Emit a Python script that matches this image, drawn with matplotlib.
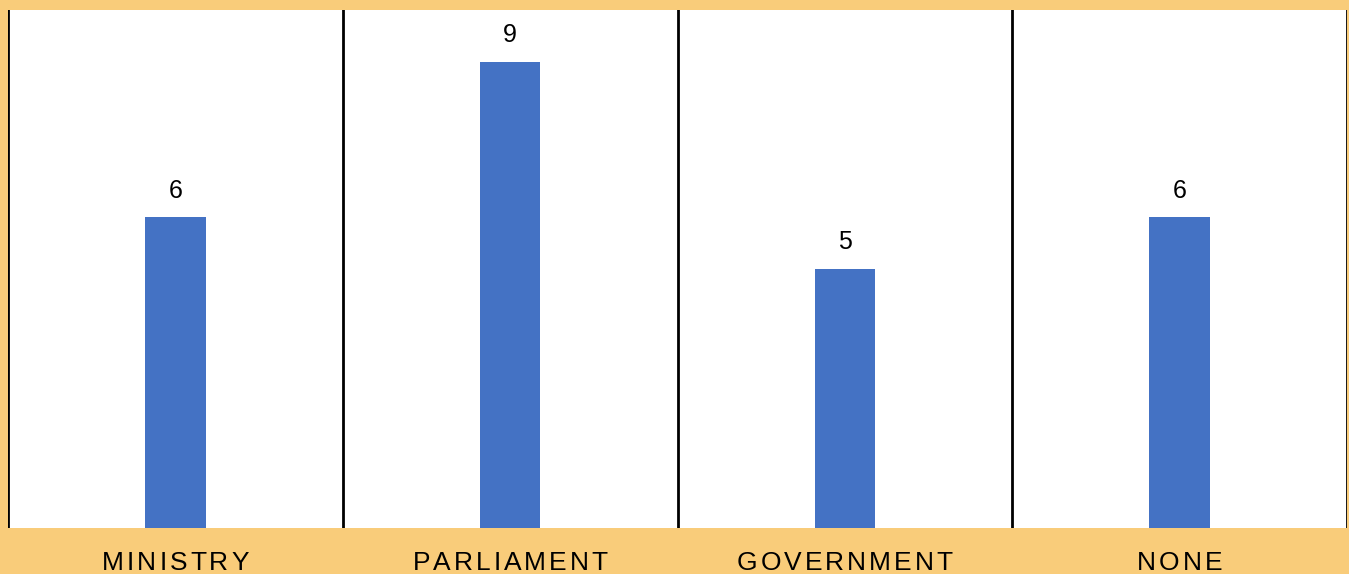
import matplotlib
matplotlib.use("Agg")
import matplotlib.pyplot as plt

categories = ["MINISTRY", "PARLIAMENT", "GOVERNMENT", "NONE"]
counts = [6, 9, 5, 6]

BG = "#F9CC7A"
BAR = "#4472C4"
W, H, DPI = 1349, 574, 100

plt.rcParams["font.family"] = ["Liberation Sans", "DejaVu Sans"]

fig = plt.figure(figsize=(W / DPI, H / DPI), dpi=DPI, facecolor=BG)
ax = fig.add_axes([8 / W, (H - 528) / H, (1347 - 8) / W, (528 - 10) / H])
ax.set_facecolor("white")

x = list(range(len(categories)))
bars = ax.bar(x, counts, width=0.18, color=BAR, zorder=2)
ax.set_xlim(-0.5, len(categories) - 0.5)
ax.set_ylim(0, 10)

# value labels above each bar
for rect, v in zip(bars, counts):
    ax.annotate(str(v), (rect.get_x() + rect.get_width() / 2, v),
                xytext=(0, 10.5), textcoords="offset points",
                ha="center", va="bottom", fontsize=18, color="black")

# separators between categories
for b in [i - 0.5 for i in range(len(categories) + 1)]:
    ax.axvline(b, color="black", lw=2, zorder=3)

for s in ax.spines.values():
    s.set_visible(False)
ax.set_xticks([])
ax.set_yticks([])

# spaced-out category labels below the plot area
fig.canvas.draw()
renderer = fig.canvas.get_renderer()
fs = 19
spacing_px = 3.0
for xi, label in zip(x, categories):
    widths = []
    for ch in label:
        t = fig.text(0, 0, ch, fontsize=fs)
        bb = t.get_window_extent(renderer)
        widths.append(bb.width)
        t.remove()
    total = sum(widths) + spacing_px * (len(label) - 1)
    xc_disp = ax.transData.transform((xi, 0))[0]
    cur = xc_disp - total / 2
    for ch, w in zip(label, widths):
        fig.text(cur / W, 11 / H, ch, fontsize=fs, ha="left",
                 va="center", color="black")
        cur += w + spacing_px

fig.savefig("out.png", dpi=DPI, facecolor=BG)
